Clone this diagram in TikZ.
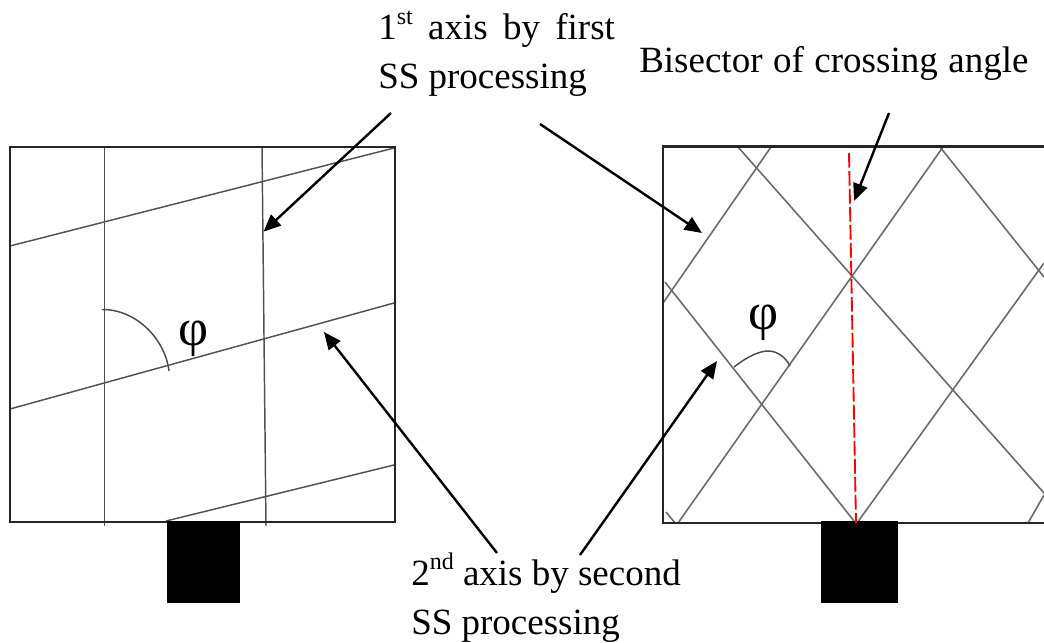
\documentclass[tikz,border=0pt]{standalone}
\usepackage{fontspec}
\setmainfont{Liberation Serif}
\usetikzlibrary{arrows.meta}
\newcommand{\supr}[1]{\raisebox{0.42em}{\fontsize{18pt}{18pt}\selectfont #1}}
\tikzset{
  boxline/.style={draw=black!85,line width=1.8pt},
  gridline/.style={draw=black!58,line width=1.2pt},
  gridleft/.style={draw=black!68,line width=1.1pt},
  anglearc/.style={draw=black!70,line width=1.1pt},
  callout/.style={draw=black,line width=1.8pt,-{Triangle[length=13pt,width=11pt]}},
  bisector/.style={draw=red,line width=1.4pt,dash pattern=on 11pt off 2.5pt},
  sensor/.style={fill=black,draw=none,inner sep=0pt,anchor=north west},
  lab/.style={inner sep=0pt,anchor=base west,font=\fontsize{27.75pt}{30pt}\selectfont},
  philab/.style={inner sep=0pt,anchor=center,font=\fontsize{39pt}{40pt}\selectfont}
}
\begin{document}
\begin{tikzpicture}[x=0.75pt,y=-0.75pt]
\useasboundingbox (0,0) rectangle (1044,642);
% left panel grid
\draw[gridleft] (104.5,147) -- (104.5,526);
\draw[gridleft] (262,147) -- (266,526);
\draw[gridleft] (10,246) -- (394,148);
\draw[gridleft] (10,409) -- (394,303);
\draw[gridleft] (166,521) -- (394,465);
\draw[anglearc] (102,309.5) .. controls (135,309) and (165,338) .. (169,371);
\draw[boxline] (10,147) rectangle (395,522);
\node[sensor,minimum width=73.5pt*0.75,minimum height=82pt*0.75] (blockL) at (166.5,521) {};
% right panel grid
\begin{scope}
\clip (663,146) rectangle (1044,524);
\draw[gridline] (663,303) -- (771,147);
\draw[gridline] (678,523) -- (943,147);
\draw[gridline] (857,523) -- (1044,263);
\draw[gridline] (1028,523) -- (1044,495);
\draw[gridline] (738,147) -- (1044,493);
\draw[gridline] (665,282) -- (854,521);
\draw[gridline] (940,147) -- (1044,277);
\draw[gridline] (666,512) -- (675,523);
\end{scope}
\draw[anglearc] (734,367) .. controls (748,356) and (760,351) .. (768,351) .. controls (778,351) and (786,358) .. (790,366);
\draw[boxline] (1044,146.5) -- (663,146.5) -- (663,523) -- (1044,523);
\node[sensor,minimum width=76.5pt*0.75,minimum height=82pt*0.75] (blockR) at (821,521) {};
\coordinate (redtop) at (849,153);
\coordinate (redbot) at (856,523);
\draw[bisector] (redtop) -- (redbot);
% labels
\node[lab] (first) at (378,40) {1\supr{st}\hspace{11.5pt}axis\hspace{11.5pt}by\hspace{11.5pt}first};
\node[lab] (firstb) at (378,89) {SS processing};
\node[lab] (bis) at (639,73) {Bisector\hspace{7.9pt}of\hspace{7.9pt}crossing\hspace{7.9pt}angle};
\node[lab] (second) at (411,585) {2\supr{nd} axis by second};
\node[lab] (secondb) at (411,634) {SS processing};
\node[philab] (phiL) at (194,339) {φ};
\node[philab] (phiR) at (763,323) {φ};
% callouts
\coordinate (a1s) at (391,113); \coordinate (a1e) at (263.5,231.7);
\coordinate (a2s) at (540,124); \coordinate (a2e) at (702,233);
\coordinate (a3s) at (889,113); \coordinate (a3e) at (854,201);
\coordinate (a4s) at (497,553); \coordinate (a4e) at (324,332);
\coordinate (a5s) at (580,555); \coordinate (a5e) at (717,361);
\draw[callout] (a1s) -- (a1e);
\draw[callout] (a2s) -- (a2e);
\draw[callout] (a3s) -- (a3e);
\draw[callout] (a4s) -- (a4e);
\draw[callout] (a5s) -- (a5e);
\end{tikzpicture}
\end{document}
